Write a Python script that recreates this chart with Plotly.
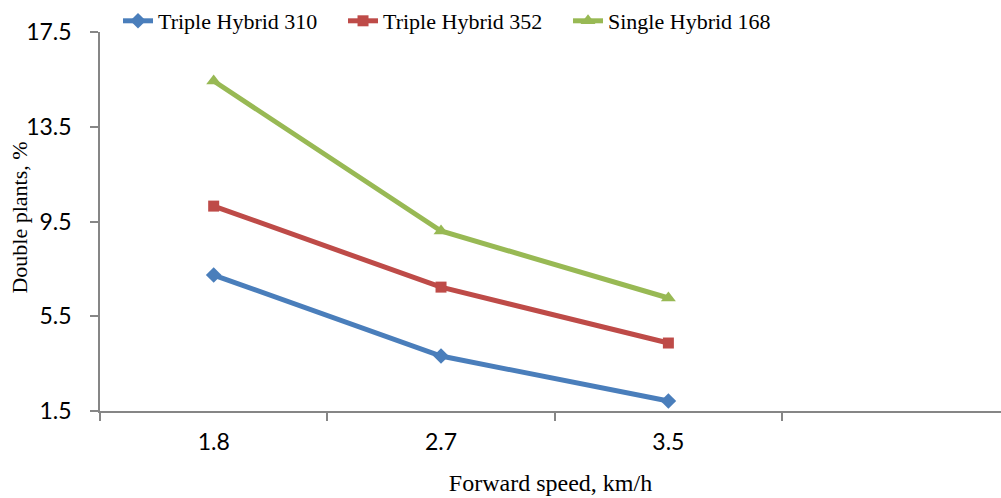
import plotly.graph_objects as go

speeds = ["1.8", "2.7", "3.5"]
triple_310 = [7.24, 3.82, 1.92]
triple_352 = [10.15, 6.73, 4.37]
single_168 = [15.43, 9.10, 6.27]

series = [
    ("Triple Hybrid 310", triple_310, "#4a7ebb", "diamond", 12),
    ("Triple Hybrid 352", triple_352, "#be4b48", "square", 11),
    ("Single Hybrid 168", single_168, "#98b954", "triangle-up", 13),
]

fig = go.Figure()
for name, vals, color, sym, size in series:
    fig.add_trace(go.Scatter(
        x=speeds, y=vals, name=name, mode="lines+markers",
        line=dict(color=color, width=5),
        marker=dict(symbol=sym, size=size, color=color),
    ))

axis_color = "#868686"
fig.update_layout(
    width=1001, height=498,
    margin=dict(l=100, r=0, t=31, b=87),
    paper_bgcolor="white", plot_bgcolor="white",
    font=dict(family="Liberation Serif", color="black"),
    showlegend=True,
    legend=dict(orientation="h", x=0.02, y=1.03, xanchor="left", yanchor="middle",
                xref="paper", yref="paper", font=dict(family="Liberation Serif", size=22),
                bgcolor="rgba(0,0,0,0)", entrywidth=180, entrywidthmode="pixels",
                tracegroupgap=0),
    xaxis=dict(
        type="category", categoryorder="array", categoryarray=speeds,
        range=[-0.5, 3.463], tickson="boundaries",
        ticks="outside", ticklen=8, tickcolor=axis_color, tickwidth=1.5,
        showline=True, linecolor=axis_color, linewidth=1.5,
        showgrid=False, zeroline=False, automargin=False,
        ticklabelstandoff=10,
        tickfont=dict(family="Lato", size=23, color="black"),
        title=dict(text="Forward speed, km/h", font=dict(family="Liberation Serif", size=24), standoff=20),
    ),
    yaxis=dict(
        range=[1.5, 17.5], tickvals=[1.5, 5.5, 9.5, 13.5, 17.5],
        ticktext=["1.5", "5.5", "9.5", "13.5", "17.5"],
        ticks="outside", ticklen=8, tickcolor=axis_color, tickwidth=1.5,
        showline=True, linecolor=axis_color, linewidth=1.5,
        showgrid=False, zeroline=False, automargin=False,
        ticklabelstandoff=14,
        tickfont=dict(family="Lato", size=23, color="black"),
    ),
    annotations=[dict(
        text="Double plants, %", textangle=-90,
        xref="paper", yref="paper", x=-0.089, y=0.51,
        xanchor="center", yanchor="middle", showarrow=False,
        font=dict(family="Liberation Serif", size=22, color="black"),
    )],
)

fig.write_html("out.html")
